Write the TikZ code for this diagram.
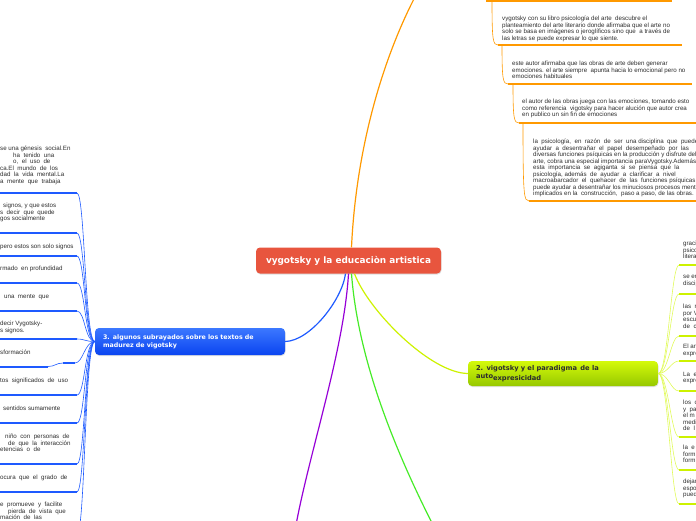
\documentclass[tikz,border=0pt]{standalone}
\usepackage{fontspec}
\setmainfont{Liberation Sans}
\newfontfamily\titulo{DejaVu Sans}
\usetikzlibrary{shadows}

\definecolor{naranja}{RGB}{255,153,0}
\definecolor{azul}{RGB}{30,90,255}
\definecolor{azulclaro}{RGB}{60,120,255}
\definecolor{azuloscuro}{RGB}{10,68,240}
\definecolor{lima}{RGB}{205,242,0}
\definecolor{limapalido}{RGB}{225,250,90}
\definecolor{limaclaro}{RGB}{212,250,10}
\definecolor{limaoscuro}{RGB}{150,200,0}
\definecolor{rojo}{RGB}{232,85,62}
\definecolor{morado}{RGB}{150,0,215}
\definecolor{verde}{RGB}{70,235,40}
\definecolor{gristexto}{RGB}{45,45,45}

\begin{document}
\begin{tikzpicture}[x=1pt,y=-1pt,
    texto/.style={font=\fontsize{6.2}{6.5}\selectfont, text=gristexto, align=left, inner sep=0pt, anchor=north west},
    tema/.style={rounded corners=4pt, align=left, inner xsep=8pt, minimum width=190pt, text width=174pt,
      font=\titulo\bfseries\fontsize{6.3}{8}\selectfont,
      drop shadow={opacity=0.25, shadow xshift=0.5pt, shadow yshift=-1pt}},
    centro/.style={fill=rojo, rounded corners=4pt, text=white, minimum width=185pt, minimum height=26pt,
      font=\titulo\bfseries\fontsize{8.9}{10}\selectfont,
      drop shadow={opacity=0.25, shadow xshift=0.5pt, shadow yshift=-1pt}},
    rama/.style={line width=1.2pt},
    hilo/.style={line width=0.6pt},
    raya/.style={line width=2pt}]
  \useasboundingbox (0,0) rectangle (696,520);
  \clip (0,0) rectangle (696,520);

  % Nodo central y temas
  \node[centro] (central) at (348.5,260.5) {vygotsky y la educaciòn artistica};
  \node[tema, text=white, top color=azulclaro, bottom color=azuloscuro, minimum height=27pt] (subrayados) at (190,341.5)
    {3. algunos subrayados sobre los textos de\\madurez de vigotsky};
  \node[tema, text=gristexto, top color=limaclaro, bottom color=limaoscuro, minimum height=25pt,
    font=\titulo\bfseries\fontsize{6.7}{8}\selectfont] (paradigma) at (563,373.5)
    {2. vigotsky y el paradigma\enspace de la\\auto\raisebox{-1.5pt}{expresicidad}};

  % Ramas principales
  \coordinate (arriba) at (416,-5);
  \coordinate (abajoizq) at (296,525);
  \coordinate (abajoder) at (433,525);
  \draw[rama, naranja] ([xshift=3pt]central.north) .. controls (356,150) and (382,60) .. (arriba);
  \draw[rama, azul] ([xshift=-3pt]central.south) .. controls (342,300) and (310,341) .. (subrayados.east);
  \draw[rama, morado] (central.south) .. controls (344,350) and (310,450) .. (abajoizq);
  \draw[rama, verde] ([xshift=3pt]central.south) .. controls (358,360) and (395,450) .. (abajoder);
  \draw[rama, lima] ([xshift=6pt]central.south) .. controls (368,310) and (430,373) .. (paradigma.west);

  % Subtemas naranjas (arriba a la derecha)
  \draw[raya, naranja] (486,1) -- (672,1);
  \foreach \i/\x/\ya/\yb/\fin in {1/492/1/45/682, 2/502/45/84/692, 3/513/84/123/705, 4/523/123/201/705} {
    \coordinate (ini\i) at (\x,\ya);
    \coordinate (fin\i) at (\x+6,\yb);
    \draw[hilo, naranja] (ini\i) .. controls +(0,\yb-\ya-4) and +(-5,0) .. (fin\i);
    \draw[raya, naranja] (fin\i) -- (\fin,\yb);
  }
  \node[texto] (nar1) at (502,16) {vygotsky con su libro psicología del arte\ \ descubre el\\planteamiento del arte literario donde afirmaba que el arte no\\solo se basa en imágenes o jeroglíficos sino que\ \ a través de\\las letras se puede expresar lo que siente.};
  \node[texto] (nar2) at (512,61) {este autor afirmaba que las obras de arte deben generar\\emociones. el arte siempre\ \ apunta hacia lo emocional pero no\\emociones habituales};
  \node[texto] (nar3) at (522,99) {el autor de las obras juega con las emociones, tomando esto\\como referencia\ \ vigotsky para hacer alución que autor crea\\en publico un sin fin de emociones};
  \node[texto] (nar4) at (533,139) {la\ \ psicología,\ \ en\ \ razón\ \ de\ \ ser\ \ una disciplina\ \ que\ \ puede\\ayudar\ \ a\ \ desentrañar\ \ el\ \ papel\ \ desempeñado\ \ por\ \ las\\diversas funciones psíquicas en la producción y disfrute del\\arte, cobra una especial importancia paraVygotsky.Además\\esta\ \ importancia\ \ se\ \ agiganta\ \ si\ \ se\ \ piensa\ \ que\ \ la\\psicología, además\ \ de\ \ ayudar\ \ a\ \ clarificar\ \ a\ \ nivel\\macroabarcador\ \ el\ \ quehacer\ \ de\ \ las\ \ funciones psíquicas,\\puede ayudar a desentrañar los minuciosos procesos mentales\\implicados en la\ \ construcción,\ \ paso a paso, de las obras.};

  % Subtemas azules (izquierda)
  \foreach \i/\y in {1/193, 2/233, 3/256, 4/283, 5/311, 6/339, 8/395, 9/423, 10/464, 11/492, 12/535} {
    \coordinate (iz\i) at (77,\y);
    \draw[hilo, azul] (subrayados.west) .. controls +(-10,0) and +(8,0) .. (iz\i);
    \draw[raya, azul] (iz\i) -- (-5,\y);
  }
  \coordinate (iz7) at (75,363);
  \draw[hilo, azul] (subrayados.west) .. controls +(-10,0) and +(8,0) .. (iz7);
  \draw[raya, azul] (iz7) -- (63,363);
  \draw[hilo, azul] (63,363) .. controls (56,363) and (55,366.5) .. (48,366.5);
  \draw[raya, azul] (48,366.5) -- (-5,366.5);

  \node[texto] (izt1) at (0,146) {se una génesis\ \ social.En\\\hspace*{13pt}ha\ \ tenido\ \ una\\\hspace*{13pt}o,\ \ el\ \ uso\ \ de\\ca.El\ \ mundo\ \ de\ \ los\\dad\ \ la\ \ vida\ \ mental.La\\a\ \ mente\ \ que\ \ trabaja};
  \node[texto] (izt2) at (0,203) {\hspace*{3pt}signos, y que estos\\s\ \ decir\ \ que\ \ quede\\gos socialmente};
  \node[texto] (izt3) at (0,244) {pero estos son solo signos};
  \node[texto] (izt4) at (0,266) {rmado\ \ en profundidad};
  \node[texto] (izt5) at (0,294) {\hspace*{4pt}una\ \ mente\ \ que};
  \node[texto] (izt6) at (0,321) {decir Vygotsky-\\s signos.};
  \node[texto] (izt7) at (0,350) {sformación};
  \node[texto] (izt8) at (0,378) {tos\ \ significados\ \ de\ \ uso};
  \node[texto] (izt9) at (0,406) {\hspace*{3pt}sentidos sumamente};
  \node[texto] (izt10) at (0,434) {\hspace*{5pt}niño\ \ con\ \ personas\ \ de\\\hspace*{8pt}de\ \ que\ \ la\ \ interacción\\etencias\ \ o\ \ de};
  \node[texto] (izt11) at (0,475) {ocura\ \ que\ \ el\ \ grado\ \ de};
  \node[texto] (izt12) at (0,502) {e\ \ promueve\ \ y\ \ facilite\\\hspace*{8pt}pierda\ \ de\ \ vista\ \ que\\mación\ \ de\ \ las};

  % Subtemas verde lima (derecha)
  \foreach \i/\y in {1/265, 2/294, 3/336, 4/361, 5/391, 6/437, 7/470, 8/504} {
    \coordinate (de\i) at (679,\y);
    \draw[hilo, limapalido] (paradigma.east) .. controls +(10,0) and +(-8,0) .. (de\i);
    \draw[raya, lima] (de\i) -- (705,\y);
  }
  \node[texto] (det1) at (683,241) {graci\\psico\\litera};
  \node[texto] (det2) at (683,275) {se er\\discip};
  \node[texto] (det3) at (683,304) {las\ \ r\\por V\\escue\\de\ \ c};
  \node[texto] (det4) at (683,344) {El ar\\expre};
  \node[texto] (det5) at (683,372) {La\ \ e\\expre};
  \node[texto] (det6) at (683,400) {los\ \ c\\y\ \ pa\\el m\\medi\\de\ \ l};
  \node[texto] (det7) at (683,445) {la\ \ e\\form\\form};
  \node[texto] (det8) at (683,479) {dejar\\espo\\pued};
\end{tikzpicture}
\end{document}
